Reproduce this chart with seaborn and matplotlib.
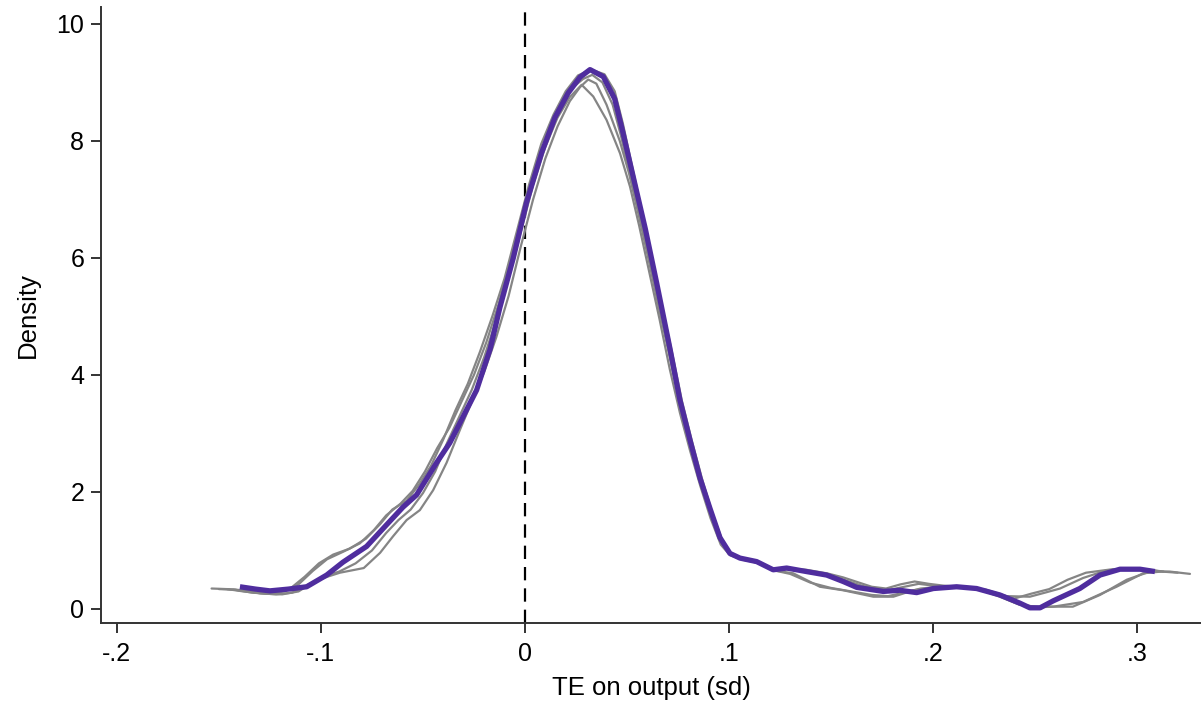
import numpy as np
import pandas as pd
import matplotlib
matplotlib.use("Agg")
import matplotlib.pyplot as plt
import seaborn as sns

# ---- data ----
main_x = [-0.1397, -0.132, -0.125, -0.116, -0.107, -0.0972, -0.0892, -0.0776, -0.0678, -0.0598,
          -0.0531, -0.0433, -0.0368, -0.0304, -0.0237, -0.017, -0.0123, -0.0057, 0.0008, 0.0082,
          0.0147, 0.0212, 0.027, 0.0319, 0.0384, 0.0440, 0.0480, 0.0530, 0.0590, 0.0646,
          0.0711, 0.076, 0.0809, 0.0858, 0.0907, 0.0956, 0.1005, 0.1054, 0.1136, 0.1217,
          0.1283, 0.138, 0.1479, 0.156, 0.1626, 0.1757, 0.1838, 0.192, 0.2002, 0.2116,
          0.2214, 0.2328, 0.2426, 0.2475, 0.2525, 0.259, 0.272, 0.2819, 0.2917, 0.3015, 0.3088]
main_y = [0.38, 0.34, 0.31, 0.34, 0.38, 0.58, 0.80, 1.07, 1.44, 1.74,
          1.95, 2.50, 2.84, 3.28, 3.74, 4.45, 5.15, 6.00, 6.95, 7.80,
          8.40, 8.82, 9.09, 9.22, 9.10, 8.72, 8.15, 7.40, 6.50, 5.57,
          4.45, 3.57, 2.89, 2.24, 1.72, 1.22, 0.95, 0.87, 0.81, 0.67,
          0.70, 0.64, 0.58, 0.47, 0.37, 0.30, 0.32, 0.28, 0.35, 0.38,
          0.35, 0.24, 0.10, 0.02, 0.02, 0.14, 0.35, 0.58, 0.68, 0.68, 0.64]

g1_x = [-0.1536, -0.146, -0.138, -0.130, -0.122, -0.115, -0.108, -0.101, -0.094, -0.086,
        -0.078, -0.071, -0.065, -0.058, -0.052, -0.046, -0.040, -0.034, -0.028, -0.022,
        -0.016, -0.010, -0.004, 0.002, 0.008, 0.014, 0.020, 0.026, 0.0325, 0.039,
        0.044, 0.048, 0.052, 0.057, 0.062, 0.067, 0.072, 0.077, 0.082, 0.087,
        0.092, 0.097, 0.101, 0.106, 0.114, 0.122, 0.130, 0.138, 0.148, 0.156,
        0.163, 0.170, 0.177, 0.184, 0.191, 0.198, 0.205, 0.213, 0.222, 0.232,
        0.240, 0.248, 0.257, 0.266, 0.275, 0.288, 0.300, 0.310]
g1_y = [0.35, 0.34, 0.30, 0.27, 0.28, 0.35, 0.55, 0.78, 0.93, 1.03,
        1.20, 1.45, 1.70, 1.85, 2.12, 2.45, 2.90, 3.40, 3.85, 4.40,
        5.00, 5.65, 6.45, 7.25, 7.95, 8.45, 8.85, 9.12, 9.22, 9.14,
        8.85, 8.30, 7.65, 6.85, 6.05, 5.20, 4.40, 3.55, 2.85, 2.20,
        1.62, 1.15, 0.95, 0.86, 0.80, 0.68, 0.69, 0.67, 0.61, 0.54,
        0.46, 0.38, 0.35, 0.42, 0.47, 0.43, 0.40, 0.38, 0.35, 0.25,
        0.18, 0.26, 0.34, 0.50, 0.62, 0.68, 0.68, 0.65]

g2_x = [-0.150, -0.142, -0.134, -0.126, -0.118, -0.111, -0.104, -0.097, -0.089, -0.081,
        -0.074, -0.068, -0.061, -0.055, -0.049, -0.043, -0.037, -0.031, -0.025, -0.019,
        -0.013, -0.007, -0.001, 0.005, 0.011, 0.017, 0.023, 0.0285, 0.033, 0.038,
        0.043, 0.047, 0.051, 0.056, 0.061, 0.066, 0.071, 0.076, 0.081, 0.086,
        0.091, 0.096, 0.1005, 0.106, 0.114, 0.122, 0.130, 0.140, 0.150, 0.158,
        0.165, 0.172, 0.179, 0.186, 0.193, 0.200, 0.208, 0.216, 0.226, 0.236,
        0.2475, 0.255, 0.2623, 0.2736, 0.285, 0.296, 0.306, 0.313]
g2_y = [0.34, 0.33, 0.28, 0.26, 0.30, 0.42, 0.65, 0.85, 0.98, 1.12,
        1.35, 1.60, 1.80, 2.02, 2.35, 2.75, 3.10, 3.55, 4.00, 4.55,
        5.20, 5.95, 6.80, 7.50, 8.12, 8.58, 8.90, 9.06, 9.13, 9.00,
        8.62, 8.10, 7.50, 6.75, 5.95, 5.12, 4.35, 3.50, 2.82, 2.18,
        1.62, 1.15, 0.95, 0.86, 0.79, 0.67, 0.68, 0.64, 0.58, 0.48,
        0.40, 0.34, 0.33, 0.38, 0.43, 0.40, 0.38, 0.37, 0.33, 0.22,
        0.21, 0.28, 0.35, 0.53, 0.66, 0.68, 0.67, 0.64]

g3_x = [-0.146, -0.138, -0.130, -0.122, -0.114, -0.106, -0.099, -0.091, -0.083, -0.075,
        -0.068, -0.062, -0.056, -0.050, -0.044, -0.038, -0.032, -0.026, -0.020, -0.014,
        -0.008, -0.002, 0.004, 0.010, 0.016, 0.022, 0.0278, 0.0335, 0.040, 0.0466,
        0.0515, 0.056, 0.061, 0.066, 0.071, 0.076, 0.081, 0.086, 0.091, 0.096,
        0.1005, 0.107, 0.114, 0.122, 0.1315, 0.1446, 0.156, 0.1708, 0.1806, 0.1904,
        0.2034, 0.212, 0.222, 0.232, 0.242, 0.252, 0.259, 0.2736, 0.290, 0.303,
        0.312, 0.320]
g3_y = [0.34, 0.32, 0.27, 0.25, 0.28, 0.42, 0.55, 0.64, 0.78, 1.00,
        1.30, 1.52, 1.70, 1.98, 2.35, 2.85, 3.30, 3.75, 4.30, 4.95,
        5.65, 6.45, 7.25, 7.90, 8.40, 8.75, 8.96, 8.76, 8.36, 7.79,
        7.22, 6.55, 5.75, 4.95, 4.10, 3.35, 2.70, 2.10, 1.55, 1.10,
        0.92, 0.84, 0.79, 0.66, 0.61, 0.38, 0.32, 0.21, 0.21, 0.32,
        0.38, 0.37, 0.34, 0.22, 0.08, 0.03, 0.04, 0.12, 0.38, 0.61,
        0.64, 0.62]

g4_x = [-0.143, -0.135, -0.127, -0.119, -0.111, -0.104, -0.097, -0.0907, -0.079, -0.071,
        -0.0647, -0.058, -0.0515, -0.045, -0.0384, -0.032, -0.026, -0.020, -0.014, -0.008,
        -0.002, 0.004, 0.010, 0.016, 0.022, 0.027, 0.031, 0.035, 0.040, 0.0465,
        0.051, 0.056, 0.061, 0.066, 0.071, 0.076, 0.081, 0.086, 0.091, 0.096,
        0.101, 0.107, 0.114, 0.122, 0.130, 0.140, 0.150, 0.160, 0.170, 0.178,
        0.186, 0.194, 0.2034, 0.212, 0.222, 0.232, 0.242, 0.249, 0.2686, 0.2819,
        0.295, 0.3064, 0.316, 0.326]
g4_y = [0.33, 0.30, 0.26, 0.25, 0.30, 0.45, 0.55, 0.62, 0.70, 0.96,
        1.24, 1.52, 1.69, 2.03, 2.50, 3.05, 3.55, 4.05, 4.65, 5.35,
        6.20, 7.00, 7.70, 8.25, 8.68, 8.92, 9.05, 8.98, 8.62, 8.00,
        7.45, 6.70, 5.92, 5.10, 4.30, 3.48, 2.80, 2.18, 1.62, 1.15,
        0.94, 0.85, 0.80, 0.66, 0.60, 0.45, 0.36, 0.30, 0.24, 0.22,
        0.28, 0.35, 0.38, 0.38, 0.35, 0.23, 0.08, 0.04, 0.04, 0.24,
        0.50, 0.64, 0.64, 0.60]

x_ticks = [-0.2, -0.1, 0.0, 0.1, 0.2, 0.3]
x_tick_labels = ["-.2", "-.1", "0", ".1", ".2", ".3"]
y_ticks = [0, 2, 4, 6, 8, 10]
y_tick_labels = ["0", "2", "4", "6", "8", "10"]
x_label = "TE on output (sd)"
y_label = "Density"

# ---- plotting ----
sns.set_style("ticks")
plt.rcParams["font.family"] = ["Liberation Sans", "DejaVu Sans"]

fig = plt.figure(figsize=(12.01, 7.06), dpi=100)
ax = fig.add_axes([0.0841, 0.1176, 0.9159, 0.8725])

ax.axvline(0, color="black", lw=1.6, dashes=(6, 3.6), zorder=1)

grey_frames = []
for name, gx, gy in [("g1", g1_x, g1_y), ("g2", g2_x, g2_y),
                     ("g3", g3_x, g3_y), ("g4", g4_x, g4_y)]:
    grey_frames.append(pd.DataFrame({"x": gx, "y": gy, "run": name}))
greys = pd.concat(grey_frames, ignore_index=True)

sns.lineplot(data=greys, x="x", y="y", units="run", estimator=None, sort=False,
             color="#858585", lw=1.6, ax=ax, zorder=2, legend=False,
             solid_joinstyle="round")

main = pd.DataFrame({"x": main_x, "y": main_y})
sns.lineplot(data=main, x="x", y="y", estimator=None, sort=False,
             color="#4F2D9E", lw=3.8, ax=ax, zorder=3, legend=False,
             solid_joinstyle="round", solid_capstyle="butt")

ax.set_xlim(-0.2078, 0.3314)
ax.set_ylim(-0.239, 10.29)
ax.set_xticks(x_ticks)
ax.set_xticklabels(x_tick_labels)
ax.set_yticks(y_ticks)
ax.set_yticklabels(y_tick_labels)
ax.set_xlabel(x_label, fontsize=18.5, labelpad=7, color="black")
ax.set_ylabel(y_label, fontsize=18.5, labelpad=12, color="black")
ax.tick_params(axis="both", labelsize=18, length=7, width=1.4, color="#333333",
               labelcolor="black", direction="out")
ax.tick_params(axis="x", pad=7)
ax.tick_params(axis="y", pad=5)

for side in ["top", "right"]:
    ax.spines[side].set_visible(False)
for side in ["left", "bottom"]:
    ax.spines[side].set_linewidth(1.4)
    ax.spines[side].set_color("#333333")

fig.savefig("out.png", dpi=100)
